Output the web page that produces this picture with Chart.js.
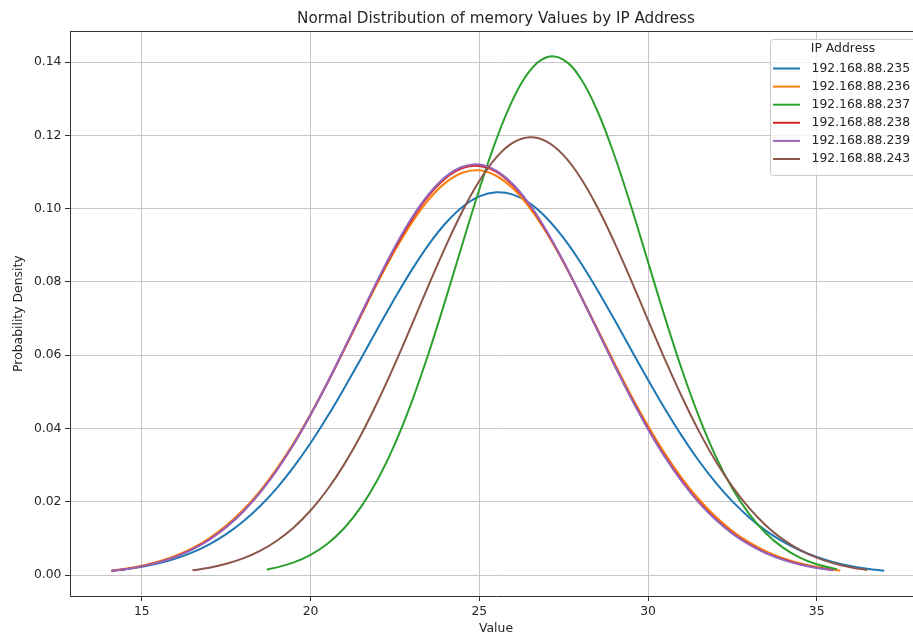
<!DOCTYPE html>
<html>
<head>
<meta charset="utf-8">
<title>Normal Distribution of memory Values by IP Address</title>
<script src="https://cdn.jsdelivr.net/npm/chart.js@4.4.1/dist/chart.umd.min.js"></script>
<style>
  html, body { margin: 0; padding: 0; background: #fff; overflow: hidden; }
  #contenedor { width: 913px; height: 637px; overflow: hidden; }
  #distribucionChart { display: block; }
</style>
</head>
<body>
<!-- el lienzo es algo más ancho: el área del gráfico sigue 9 px más allá del borde, como en la imagen -->
<div id="contenedor"><canvas id="distribucionChart" width="931" height="637"></canvas></div>
<script>
// ========== DATOS ==========

const tituloGrafico = 'Normal Distribution of memory Values by IP Address';
const tituloEjeX = 'Value';
const tituloEjeY = 'Probability Density';
const tituloLeyenda = 'IP Address';

const ipAddresses = ['192.168.88.235', '192.168.88.236', '192.168.88.237', '192.168.88.238', '192.168.88.239', '192.168.88.243'];

const xTickValues = [15, 20, 25, 30, 35];
const yTickValues = [0, 0.02, 0.04, 0.06, 0.08, 0.10, 0.12, 0.14];

const x235 = [14.1, 14.5, 15, 15.5, 16, 16.5, 17, 17.5, 18, 18.5, 19, 19.5, 20, 20.5, 21, 21.5, 22, 22.5, 23, 23.5, 24, 24.5, 25, 25.5, 26, 26.5, 27, 27.5, 28, 28.5, 29, 29.5, 30, 30.5, 31, 31.5, 32, 32.5, 33, 33.5, 34, 34.5, 35, 35.5, 36, 36.5, 37];
const y235 = [0.00115, 0.00156, 0.00226, 0.00322, 0.00451, 0.00621, 0.00842, 0.01119, 0.01463, 0.01881, 0.02376, 0.02953, 0.03605, 0.04326, 0.05105, 0.05921, 0.06749, 0.07563, 0.08331, 0.09021, 0.09603, 0.10048, 0.10334, 0.10448, 0.10384, 0.10145, 0.09741, 0.09196, 0.08533, 0.07784, 0.06980, 0.06152, 0.05331, 0.04539, 0.03800, 0.03128, 0.02530, 0.02012, 0.01573, 0.01208, 0.00913, 0.00678, 0.00495, 0.00355, 0.00250, 0.00173, 0.00118];

const x236 = [14.1, 14.5, 15, 15.5, 16, 16.5, 17, 17.5, 18, 18.5, 19, 19.5, 20, 20.5, 21, 21.5, 22, 22.5, 23, 23.5, 24, 24.5, 25, 25.5, 26, 26.5, 27, 27.5, 28, 28.5, 29, 29.5, 30, 30.5, 31, 31.5, 32, 32.5, 33, 33.5, 34, 34.5, 35, 35.5, 35.7];
const y236 = [0.00126, 0.00174, 0.00257, 0.00372, 0.00529, 0.00737, 0.01007, 0.01351, 0.01778, 0.02295, 0.02906, 0.03609, 0.04398, 0.05256, 0.06165, 0.07091, 0.08003, 0.08859, 0.09621, 0.10250, 0.10712, 0.10982, 0.11046, 0.10899, 0.10548, 0.10016, 0.09330, 0.08525, 0.07642, 0.06721, 0.05798, 0.04906, 0.04073, 0.03317, 0.02650, 0.02077, 0.01597, 0.01205, 0.00891, 0.00647, 0.00461, 0.00322, 0.00220, 0.00148, 0.00126];

const x237 = [18.7, 19, 19.5, 20, 20.5, 21, 21.5, 22, 22.5, 23, 23.5, 24, 24.5, 25, 25.5, 26, 26.5, 27, 27.5, 28, 28.5, 29, 29.5, 30, 30.5, 31, 31.5, 32, 32.5, 33, 33.5, 34, 34.5, 35, 35.6];
const y237 = [0.00154, 0.00211, 0.00348, 0.00555, 0.00858, 0.01286, 0.01868, 0.02628, 0.03583, 0.04734, 0.06060, 0.07518, 0.09036, 0.10525, 0.11877, 0.12990, 0.13765, 0.14134, 0.14063, 0.13558, 0.12666, 0.11465, 0.10058, 0.08548, 0.07040, 0.05619, 0.04346, 0.03255, 0.02363, 0.01664, 0.01134, 0.00749, 0.00479, 0.00297, 0.00161];

const x238 = [14.1, 14.5, 15, 15.5, 16, 16.5, 17, 17.5, 18, 18.5, 19, 19.5, 20, 20.5, 21, 21.5, 22, 22.5, 23, 23.5, 24, 24.5, 25, 25.5, 26, 26.5, 27, 27.5, 28, 28.5, 29, 29.5, 30, 30.5, 31, 31.5, 32, 32.5, 33, 33.5, 34, 34.5, 35, 35.5];
const y238 = [0.00118, 0.00163, 0.00244, 0.00355, 0.00505, 0.00710, 0.00975, 0.01314, 0.01738, 0.02254, 0.02868, 0.03573, 0.04373, 0.05240, 0.06168, 0.07112, 0.08045, 0.08924, 0.09707, 0.10356, 0.10830, 0.11106, 0.11165, 0.11008, 0.10630, 0.10087, 0.09362, 0.08545, 0.07628, 0.06690, 0.05748, 0.04845, 0.04004, 0.03244, 0.02580, 0.02006, 0.01536, 0.01146, 0.00846, 0.00606, 0.00431, 0.00297, 0.00204, 0.00136];

const x239 = [14.1, 14.5, 15, 15.5, 16, 16.5, 17, 17.5, 18, 18.5, 19, 19.5, 20, 20.5, 21, 21.5, 22, 22.5, 23, 23.5, 24, 24.5, 25, 25.5, 26, 26.5, 27, 27.5, 28, 28.5, 29, 29.5, 30, 30.5, 31, 31.5, 32, 32.5, 33, 33.5, 34, 34.5, 35, 35.5];
const y239 = [0.00114, 0.00159, 0.00238, 0.00348, 0.00498, 0.00701, 0.00966, 0.01306, 0.01730, 0.02248, 0.02863, 0.03576, 0.04378, 0.05256, 0.06187, 0.07141, 0.08079, 0.08963, 0.09751, 0.10398, 0.10873, 0.11146, 0.11209, 0.11041, 0.10668, 0.10107, 0.09387, 0.08549, 0.07634, 0.06682, 0.05736, 0.04827, 0.03983, 0.03222, 0.02555, 0.01986, 0.01515, 0.01132, 0.00830, 0.00596, 0.00420, 0.00290, 0.00197, 0.00131];

const x243 = [16.5, 17, 17.5, 18, 18.5, 19, 19.5, 20, 20.5, 21, 21.5, 22, 22.5, 23, 23.5, 24, 24.5, 25, 25.5, 26, 26.5, 27, 27.5, 28, 28.5, 29, 29.5, 30, 30.5, 31, 31.5, 32, 32.5, 33, 33.5, 34, 34.5, 35, 35.5, 36, 36.5];
const y243 = [0.00131, 0.00203, 0.00308, 0.00456, 0.00661, 0.00938, 0.01300, 0.01763, 0.02336, 0.03029, 0.03838, 0.04757, 0.05765, 0.06831, 0.07915, 0.08966, 0.09932, 0.10757, 0.11394, 0.11801, 0.11950, 0.11832, 0.11456, 0.10846, 0.10039, 0.09088, 0.08044, 0.06961, 0.05890, 0.04874, 0.03944, 0.03120, 0.02414, 0.01826, 0.01350, 0.00976, 0.00691, 0.00478, 0.00323, 0.00213, 0.00138];

const seriesX = [x235, x236, x237, x238, x239, x243];
const seriesY = [y235, y236, y237, y238, y239, y243];

// ========== ESTILOS ==========

const colores = ['#1f77b4', '#ff7f0e', '#2ca02c', '#d62728', '#9467bd', '#8c564b'];
const FUENTE = "'DejaVu Sans', sans-serif";
const COLOR_TEXTO = '#262626';
const COLOR_GRID = '#c6c6c6';
const COLOR_EJE = '#333333';

function puntos(xs, ys) {
    return xs.map((x, i) => ({ x: x, y: ys[i] }));
}

// Borde superior del área del gráfico (spine de arriba)
const bordeSuperior = {
    id: 'bordeSuperior',
    afterDraw(chart) {
        const { ctx, chartArea } = chart;
        const y = Math.round(chartArea.top) + 0.5;
        ctx.save();
        ctx.strokeStyle = COLOR_EJE;
        ctx.lineWidth = 1;
        ctx.beginPath();
        ctx.moveTo(chartArea.left, y);
        ctx.lineTo(chartArea.right, y);
        ctx.stroke();
        ctx.restore();
    }
};

// Leyenda dentro del área, arriba a la derecha
const leyendaInterna = {
    id: 'leyendaInterna',
    afterDraw(chart) {
        const ctx = chart.ctx;
        ctx.save();
        ctx.beginPath();
        ctx.roundRect(770.5, 39.5, 146, 136, 3);
        ctx.fillStyle = 'rgba(255, 255, 255, 0.8)';
        ctx.fill();
        ctx.strokeStyle = '#cccccc';
        ctx.lineWidth = 1;
        ctx.stroke();

        ctx.font = '12.4px ' + FUENTE;
        ctx.fillStyle = COLOR_TEXTO;
        ctx.textBaseline = 'middle';
        ctx.textAlign = 'center';
        ctx.fillText(tituloLeyenda, 843, 48.5);

        ctx.textAlign = 'left';
        chart.data.datasets.forEach((ds, i) => {
            const y = 68.5 + i * 18.1;
            ctx.strokeStyle = ds.borderColor;
            ctx.lineWidth = 2;
            ctx.beginPath();
            ctx.moveTo(773, y);
            ctx.lineTo(800, y);
            ctx.stroke();
            ctx.fillStyle = COLOR_TEXTO;
            ctx.fillText(ds.label, 811.5, y);
        });
        ctx.restore();
    }
};

const ctx = document.getElementById('distribucionChart').getContext('2d');

const distribucionChart = new Chart(ctx, {
    type: 'line',
    data: {
        datasets: ipAddresses.map((ip, i) => ({
            label: ip,
            data: puntos(seriesX[i], seriesY[i]),
            borderColor: colores[i],
            backgroundColor: colores[i],
            borderWidth: 2,
            pointRadius: 0,
            tension: 0.4,
            fill: false,
            order: ipAddresses.length - i
        }))
    },
    options: {
        responsive: false,
        animation: false,
        devicePixelRatio: 1,
        layout: {
            padding: { left: 0, right: 9, top: 0, bottom: 0 }
        },
        plugins: {
            legend: { display: false },
            tooltip: { enabled: false },
            title: {
                display: true,
                text: tituloGrafico,
                fullSize: false,
                color: COLOR_TEXTO,
                font: { family: FUENTE, size: 15.2, weight: 'normal' },
                padding: { top: 9.5, bottom: 3.6 }
            }
        },
        scales: {
            x: {
                type: 'linear',
                min: 12.87,
                max: 38.12,
                afterBuildTicks: scale => {
                    scale.ticks = xTickValues.map(v => ({ value: v }));
                },
                afterFit: scale => {
                    scale.height = 41;
                },
                ticks: {
                    autoSkip: false,
                    maxRotation: 0,
                    padding: 3.5,
                    color: COLOR_TEXTO,
                    font: { family: FUENTE, size: 12.4 },
                    callback: v => String(v)
                },
                grid: {
                    color: COLOR_GRID,
                    lineWidth: 1,
                    tickLength: 5,
                    tickColor: COLOR_EJE
                },
                border: { display: true, color: COLOR_EJE, width: 1 },
                title: {
                    display: true,
                    text: tituloEjeX,
                    color: COLOR_TEXTO,
                    font: { family: FUENTE, size: 12.4 },
                    padding: { top: 0, bottom: 0.5 }
                }
            },
            y: {
                type: 'linear',
                min: -0.0057,
                max: 0.1484,
                afterBuildTicks: scale => {
                    scale.ticks = yTickValues.map(v => ({ value: v }));
                },
                afterFit: scale => {
                    scale.width = 70;
                },
                ticks: {
                    autoSkip: false,
                    padding: 3.5,
                    color: COLOR_TEXTO,
                    font: { family: FUENTE, size: 12.4 },
                    callback: v => v.toFixed(2)
                },
                grid: {
                    color: COLOR_GRID,
                    lineWidth: 1,
                    tickLength: 5,
                    tickColor: COLOR_EJE
                },
                border: { display: true, color: COLOR_EJE, width: 1 },
                title: {
                    display: true,
                    text: tituloEjeY,
                    color: COLOR_TEXTO,
                    font: { family: FUENTE, size: 12.4 },
                    padding: { top: 11.5, bottom: 0 }
                }
            }
        }
    },
    plugins: [bordeSuperior, leyendaInterna]
});
</script>
</body>
</html>
